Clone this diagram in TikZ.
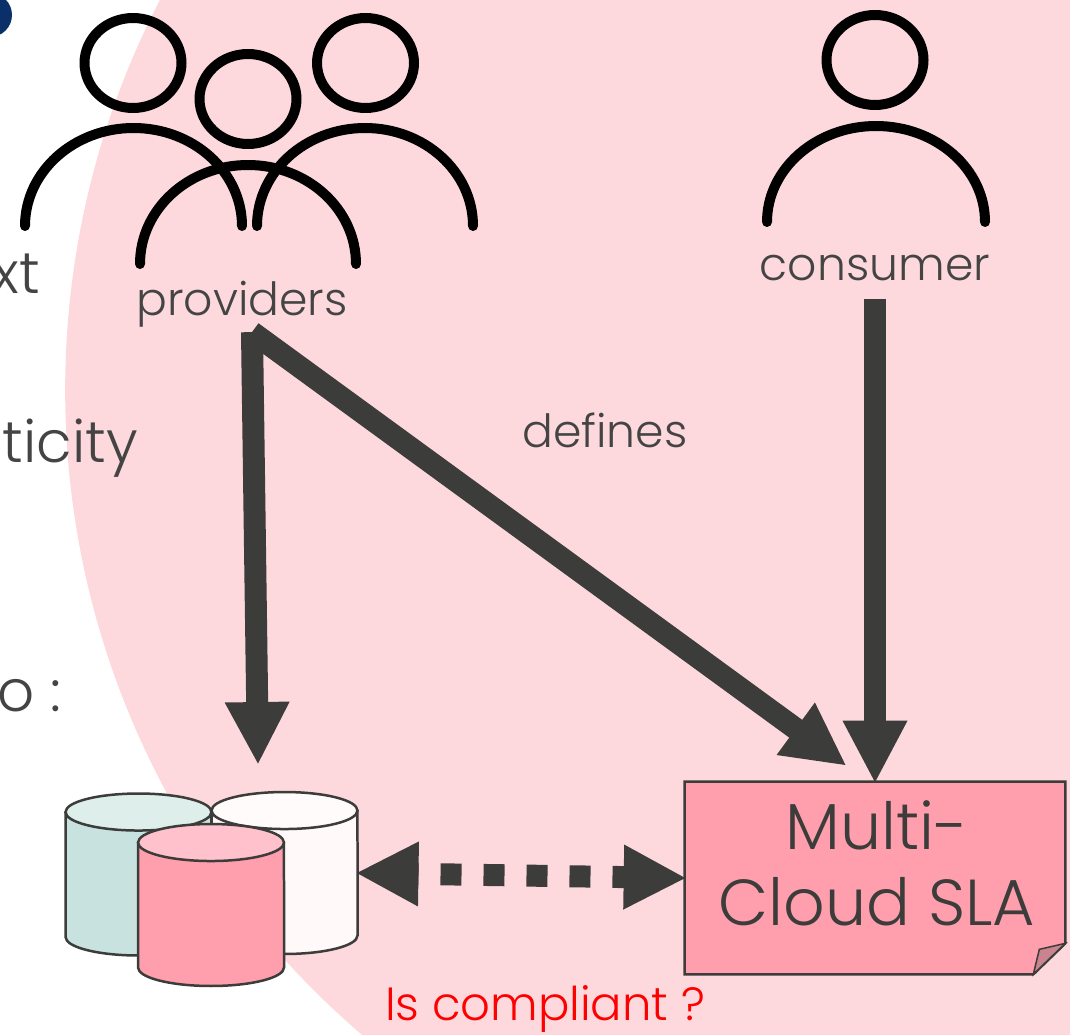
\documentclass[tikz,border=0pt]{standalone}
\usepackage{fontspec}
\setmainfont{Poppins}[UprightFont=* Light]
\usetikzlibrary{arrows.meta,calc,shapes.geometric}
\definecolor{blush}{HTML}{FDD9DE}
\definecolor{navy}{HTML}{0B2F68}
\definecolor{ink}{HTML}{3C3C3A}
\definecolor{greytext}{HTML}{444444}
\definecolor{rose}{HTML}{FF9FAD}
\definecolor{roselight}{HTML}{FFC1CB}
\definecolor{foldrose}{HTML}{C98490}
\definecolor{mint}{HTML}{C8E3DF}
\definecolor{mintlight}{HTML}{DEEEEA}
\definecolor{snow}{HTML}{FFF9F9}
\definecolor{snowlight}{HTML}{FFFBFB}
% name, position, body colour, top colour
\newcommand{\dbnode}[4]{
  \node (#1) [dbbox] at #2 {};
  \draw [dbline, fill=#3] ($(#1.north west)+(0,18.5)$) -- ($(#1.south west)+(0,-18.5)$)
    arc [start angle=180, end angle=0, x radius=73, y radius=18.5]
    -- ($(#1.north east)+(0,18.5)$);
  \draw [dbline, fill=#4] ($(#1.north)+(0,18.5)$) ellipse [x radius=73, y radius=18.5];
}

\begin{document}
\begin{tikzpicture}
  [
    x=0.02cm, y=-0.02cm,
    head/.style={
      ellipse, draw=black, line width=0.2cm,
      minimum width=1.94cm, minimum height=1.8cm,
    },
    body/.style={
      draw=black, line width=0.2cm, line cap=round,
    },
    tag/.style={
      anchor=base, text=greytext, font=\fontsize{26}{30}\selectfont, inner sep=0pt,
    },
    cuttext/.style={
      anchor=base east, text=greytext, font=\fontsize{33}{38}\selectfont, inner sep=0pt,
    },
    dbbox/.style={
      minimum width=2.92cm, minimum height=3.24cm, inner sep=0pt, outer sep=0pt,
    },
    dbline/.style={
      draw=ink, line width=0.05cm,
    },
    thick arrow/.style={
      draw=ink, line width=0.44cm, shorten >=-0.04cm,
      -{Triangle[length=1.26cm,width=1.2cm]},
    },
    dashed arrow/.style={
      draw=ink, line width=0.44cm, shorten >=-0.04cm, shorten <=-0.04cm,
      {Triangle[length=1.26cm,width=1.2cm]}-{Triangle[length=1.26cm,width=1.2cm]},
      dash pattern=on 0.42cm off 0.44cm, dash phase=0.34cm,
    },
  ]
\useasboundingbox (0,0) rectangle (1070,1034);

% Background
\fill [blush] (914,390) circle [radius=16.98cm];
\fill [navy] (-10,15) circle [radius=0.44cm];

% Cut off text
\node (cutext)   [cuttext] at (40,293)  {xt};
\node (cuticity) [cuttext] at (138,462) {ticity};
\node (cuto)     [cuttext] at (62,711)  {o :};

% Providers
\node (headleft)  [head] at (133,63) {};
\node (headright) [head] at (365.5,63) {};
\node (headmid)   [head] at (248,99) {};
\draw [body] (25,226) arc [start angle=180, end angle=360, x radius=108.5, y radius=98];
\draw [body] (257,226) arc [start angle=180, end angle=360, x radius=108, y radius=98];
\draw [body] (140,264) arc [start angle=180, end angle=360, x radius=108, y radius=99];
\node (providers) [tag, minimum height=0.4cm] at (242,315) {providers};

% Consumer
\node (headcons) [head] at (875,60) {};
\draw [body] (767,222) arc [start angle=180, end angle=360, x radius=109, y radius=96];
\node (consumer) [tag] at (875,280) {consumer};

\node (defines) [tag] at (605,447) {defines};

% Databases
\dbnode{dbmint}{(138.5,874.5)}{mint}{mintlight}
\dbnode{dbsnow}{(284.5,873)}{snow}{snowlight}
\dbnode{dbrose}{(211,905)}{rose}{roselight}

% SLA
\node (sla) [minimum width=7.6cm, minimum height=3.84cm, inner sep=0pt] at (875,878) {};
\draw [draw=ink, line width=0.05cm, fill=rose]
  (sla.north west) -- (sla.north east) -- ($(sla.south east)+(0,-31)$)
  -- ($(sla.south east)+(-32,0)$) -- (sla.south west) -- cycle;
\draw [draw=ink, line width=0.03cm, fill=foldrose]
  ($(sla.south east)+(-32,0)$) -- ($(sla.south east)+(-26,-25)$)
  -- ($(sla.south east)+(0,-31)$) -- cycle;
\node (slaone) [tag, text=ink, font=\fontsize{37}{44}\selectfont] at (877,849) {Multi-};
\node (slatwo) [tag, text=ink, font=\fontsize{37}{44}\selectfont] at (877,925) {Cloud SLA};

\node (compliant) [tag, text=red, font=\fontsize{26.5}{30}\selectfont] at (545,1020) {Is compliant ?};

% Arrows
\draw [thick arrow] ([xshift=0.2cm,yshift=-0.1cm]providers.south) -- ([xshift=-0.53cm,yshift=0.58cm]dbsnow.north);
\draw [thick arrow] ([xshift=0.2cm,yshift=-0.1cm]providers.south) -- ([xshift=-0.6cm,yshift=0.34cm]sla.north);
\draw [thick arrow] ([yshift=-0.36cm]consumer.south) -- (sla.north);
\draw [dashed arrow] (dbsnow.east) -- (sla.west);

\end{tikzpicture}
\end{document}
